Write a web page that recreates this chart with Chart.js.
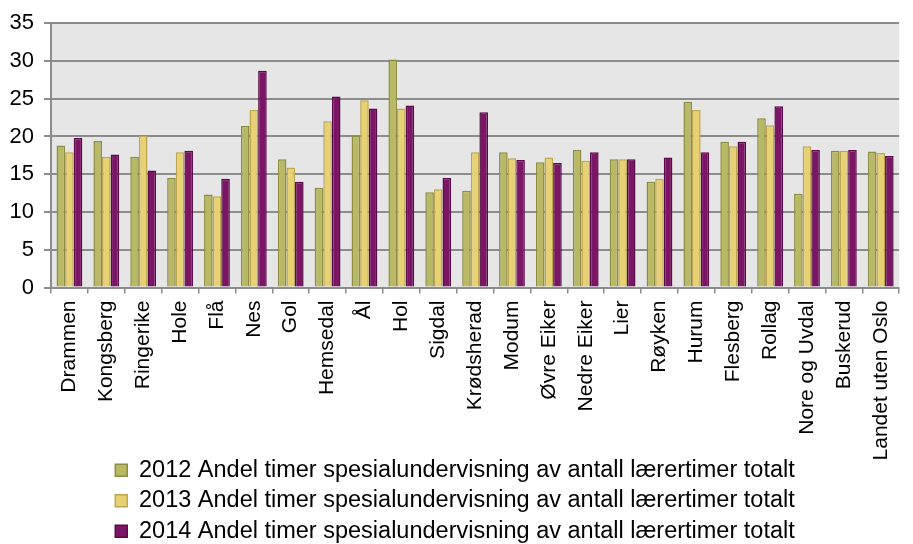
<!DOCTYPE html>
<html>
<head>
<meta charset="utf-8">
<script src="https://cdn.jsdelivr.net/npm/chart.js@4"></script>
<style>
  html, body { margin: 0; padding: 0; background: #fff; }
  #wrap { width: 913px; height: 544px; }
</style>
</head>
<body>
<div id="wrap"><canvas id="graph"></canvas></div>
<script>
const kommuner = ['Drammen', 'Kongsberg', 'Ringerike', 'Hole', 'Flå', 'Nes', 'Gol', 'Hemsedal', 'Ål', 'Hol',
    'Sigdal', 'Krødsherad', 'Modum', 'Øvre Eiker', 'Nedre Eiker', 'Lier', 'Røyken', 'Hurum', 'Flesberg',
    'Rollag', 'Nore og Uvdal', 'Buskerud', 'Landet uten Oslo'];

const andel2012 = [18.8, 19.4, 17.3, 14.5, 12.3, 21.4, 17.0, 13.2, 20.1, 30.2, 12.6, 12.8, 17.9, 16.6, 18.2, 17.0, 14.0, 24.6, 19.3, 22.4, 12.4, 18.1, 18.0];
const andel2013 = [17.9, 17.3, 20.1, 17.9, 12.1, 23.5, 15.9, 22.0, 24.8, 23.7, 13.0, 17.9, 17.1, 17.2, 16.8, 17.0, 14.4, 23.5, 18.7, 21.5, 18.7, 18.1, 17.8];
const andel2014 = [19.8, 17.6, 15.5, 18.1, 14.4, 28.7, 14.0, 25.3, 23.7, 24.1, 14.5, 23.2, 16.9, 16.5, 17.9, 17.0, 17.2, 17.9, 19.3, 24.0, 18.2, 18.2, 17.4];

const legendText = ' Andel timer spesialundervisning av antall lærertimer totalt';
const yTicks = [0, 5, 10, 15, 20, 25, 30, 35];

// grey plot area behind the bars
const plotBg = {
    id: 'plotBg',
    beforeDraw(chart) {
        const a = chart.chartArea;
        const c = chart.ctx;
        c.save();
        c.fillStyle = '#e6e6e6';
        c.fillRect(a.left, a.top, a.right - a.left, a.bottom - a.top);
        c.restore();
    }
};

// long category names run into the legend band, so widen the label clip box
const labelRoom = {
    id: 'labelRoom',
    afterLayout(chart) {
        const x = chart.scales.x;
        x.bottom = x.top + 185;
    }
};

Chart.defaults.font.family = 'Arial, "Liberation Sans", sans-serif';
Chart.defaults.color = '#000';

var ctx = document.getElementById('graph').getContext('2d');

new Chart(ctx, {
    type: 'bar',
    data: {
        labels: kommuner,
        datasets: [
            {
                label: '2012' + legendText,
                data: andel2012,
                backgroundColor: '#b8b865',
                borderColor: '#8c8c42',
                borderWidth: 1.5
            },
            {
                label: '2013' + legendText,
                data: andel2013,
                backgroundColor: '#e8d173',
                borderColor: '#bda652',
                borderWidth: 1.5
            },
            {
                label: '2014' + legendText,
                data: andel2014,
                backgroundColor: '#7b1565',
                borderColor: '#5a0c49',
                borderWidth: 1.5
            }
        ]
    },
    options: {
        responsive: true,
        maintainAspectRatio: false,
        animation: false,
        layout: { padding: { top: 19, left: 0, right: 3, bottom: -9 } },
        datasets: {
            bar: { categoryPercentage: 0.7, barPercentage: 1.0 }
        },
        scales: {
            x: {
                afterFit(scale) { scale.height = 164; },
                grid: {
                    offset: true,
                    drawOnChartArea: false,
                    color: '#8c8c8c',
                    lineWidth: 1.5,
                    tickLength: 6
                },
                border: { color: '#8c8c8c', width: 2 },
                ticks: {
                    minRotation: 90,
                    maxRotation: 90,
                    autoSkip: false,
                    padding: 7,
                    font: { size: 21 }
                }
            },
            y: {
                min: 0,
                max: 35,
                afterFit(scale) { scale.width = 51; },
                afterBuildTicks(axis) {
                    axis.ticks = yTicks.map(v => ({ value: v }));
                },
                grid: {
                    color: '#8c8c8c',
                    lineWidth: 2,
                    tickLength: 7
                },
                border: { color: '#8c8c8c', width: 2 },
                ticks: {
                    padding: 10,
                    font: { size: 22 }
                }
            }
        },
        plugins: {
            legend: {
                position: 'bottom',
                labels: {
                    boxWidth: 12,
                    boxHeight: 12,
                    padding: 7,
                    font: { size: 23.5 }
                }
            },
            tooltip: { enabled: false }
        }
    },
    plugins: [plotBg, labelRoom]
});
</script>
</body>
</html>
